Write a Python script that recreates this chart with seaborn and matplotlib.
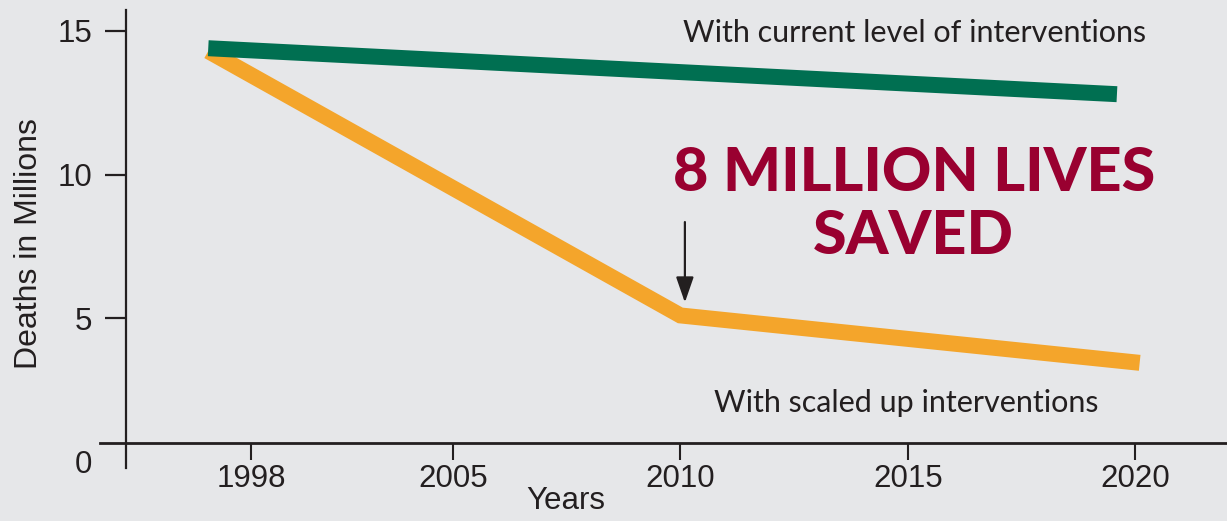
import numpy as np
import pandas as pd
import matplotlib
matplotlib.use("Agg")
import matplotlib.pyplot as plt
import seaborn as sns

# values (deaths in millions)
current_years = [1996.5, 2019.6]
current_deaths = [14.4, 12.8]
scaled_years = [1996.5, 2010.0, 2020.1]
scaled_deaths = [14.3, 5.1, 3.45]

tick_years = [1998, 2005, 2010, 2015, 2020]
tick_deaths = [0, 5, 10, 15]

label_current = "With current level of interventions"
label_scaled = "With scaled up interventions"
headline = ["8 MILLION LIVES", "SAVED"]

GREEN = "#006F51"
ORANGE = "#F4A52B"
RED = "#990030"
INK = "#231F20"
BG = "#E6E7E9"

df = pd.concat([
    pd.DataFrame({"year": current_years, "deaths": current_deaths, "scenario": "current"}),
    pd.DataFrame({"year": scaled_years, "deaths": scaled_deaths, "scenario": "scaled"}),
])

sns.set_theme(style="white")
plt.rcParams["font.family"] = ["Liberation Sans", "DejaVu Sans"]
plt.rcParams["figure.facecolor"] = BG
plt.rcParams["axes.facecolor"] = BG


# the original squeezes 1998-2005 compared with the later years
def fwd(x):
    x = np.asarray(x, dtype=float)
    return np.where(x < 2005, 2005 - (2005 - x) * 0.633, x)


def inv(t):
    t = np.asarray(t, dtype=float)
    return np.where(t < 2005, 2005 - (2005 - t) / 0.633, t)


fig = plt.figure(figsize=(12.27, 5.21), dpi=100)
ax = fig.add_axes([100 / 1227, 53 / 521, 1127 / 1227, 458 / 521])

sns.lineplot(data=df, x="year", y="deaths", hue="scenario",
             palette={"current": GREEN, "scaled": ORANGE},
             hue_order=["scaled", "current"],
             linewidth=11.5, solid_capstyle="butt", solid_joinstyle="miter",
             legend=False, ax=ax, sort=False)

ax.set_xscale("function", functions=(fwd, inv))
ax.set_xlim(1992.74, 2022.02)
ax.set_ylim(-0.21, 15.73)

# spines: y axis sits a bit inside, x axis slightly above the 0 label
for side in ["top", "right"]:
    ax.spines[side].set_visible(False)
ax.spines["left"].set_position(("data", 1993.64))
ax.spines["bottom"].set_position(("data", 0.66))
ax.spines["left"].set_color(INK)
ax.spines["bottom"].set_color(INK)
ax.spines["left"].set_linewidth(1.6)
ax.spines["bottom"].set_linewidth(2.0)

ax.set_xticks(tick_years)
ax.set_xticklabels([str(y) for y in tick_years])
ax.set_yticks(tick_deaths)
ax.set_yticklabels([str(v) for v in tick_deaths])
ax.tick_params(axis="x", direction="out", length=12, width=1.5, color=INK,
               labelsize=22.5, labelcolor=INK, pad=3, bottom=True)
ax.tick_params(axis="y", direction="out", length=15, width=1.6, color=INK,
               labelsize=22.5, labelcolor=INK, pad=9, left=True)
ax.yaxis.get_major_ticks()[0].tick1line.set_visible(False)

ax.set_xlabel("Years", fontsize=22.5, color=INK)
ax.xaxis.set_label_coords(0.413, -0.04)
ax.set_ylabel("Deaths in Millions", fontsize=23, color=INK)
ax.yaxis.set_label_coords(-0.05, 0.491)
ax.grid(False)

# annotations
ax.text(2015.16, 14.61, label_current, ha="center", va="baseline",
        fontsize=22, color=INK, family=["Lato", "DejaVu Sans"])
ax.text(2014.96, 1.74, label_scaled, ha="center", va="baseline",
        fontsize=22, color=INK, family=["Lato", "DejaVu Sans"])
ax.text(2015.13, 9.43, headline[0], ha="center", va="baseline",
        fontsize=44, color=RED, fontweight="black", family=["Lato", "DejaVu Sans"])
ax.text(2015.13, 7.24, headline[1], ha="center", va="baseline",
        fontsize=44, color=RED, fontweight="black", family=["Lato", "DejaVu Sans"])

ax.annotate("", xy=(2010.1, 5.55), xytext=(2010.1, 8.35),
            arrowprops=dict(arrowstyle="-|>,head_length=1.3,head_width=0.45",
                            color=INK, lw=1.6, shrinkA=0, shrinkB=0))

fig.savefig("out.png", dpi=100, facecolor=BG)
